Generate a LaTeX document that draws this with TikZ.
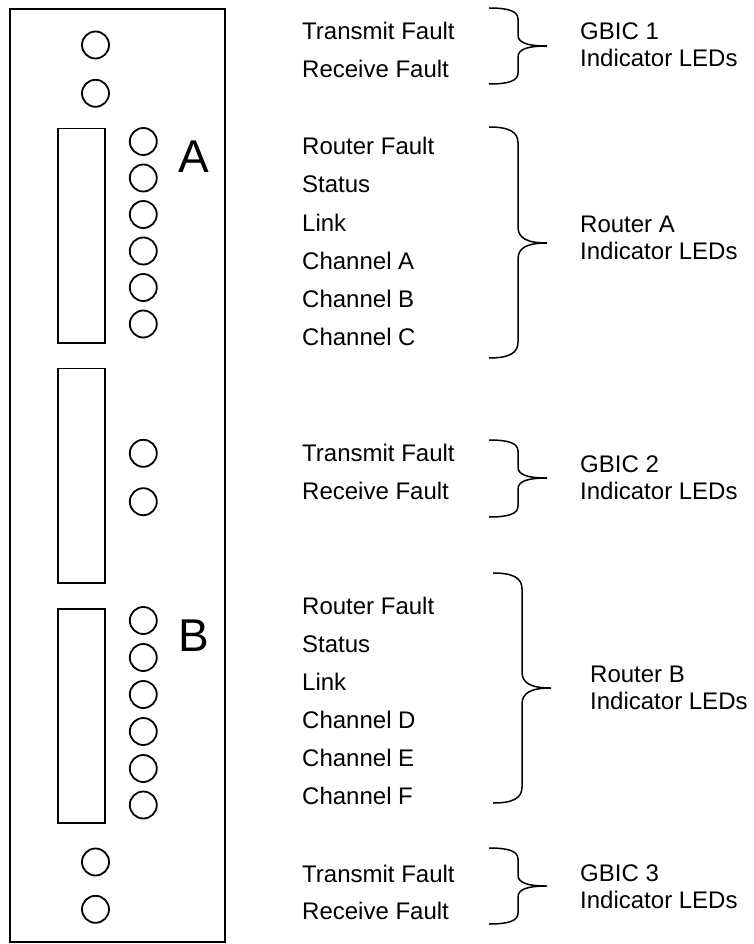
\documentclass[tikz,border=0pt]{standalone}
\usepackage{fontspec}
\setmainfont{Liberation Sans}
\usetikzlibrary{positioning}

% brace: left x, top y, tip y, bottom y, curl
\newcommand{\ledbrace}[5]{%
  \draw[brace] (#1,#2) .. controls +(20,0) and +(0,-0.7*#5) .. (#1+29,#2+#5)
    -- (#1+29,#3-#5) .. controls +(0,0.7*#5) and +(-20,0) .. (#1+58,#3)
    .. controls +(-20,0) and +(0,-0.7*#5) .. (#1+29,#3+#5)
    -- (#1+29,#4-#5) .. controls +(0,0.7*#5) and +(20,0) .. (#1,#4);}

\begin{document}
\begin{tikzpicture}[
                x=1pt, y=-1pt,
                panel/.style={
                        draw=black,
                        line width=2pt,
                        minimum width=215pt,
                        minimum height=933pt,
                        inner sep=0pt
                    },
                port/.style={panel, line width=1.8pt, minimum width=47pt, minimum height=214.5pt},
                led/.style={circle, draw=black, line width=1.8pt, minimum size=27pt, inner sep=0pt},
                letter/.style={inner sep=0pt, font=\fontsize{46}{50}\selectfont},
                item/.style={anchor=base west, inner sep=0pt, font=\fontsize{24}{27}\selectfont},
                group/.style={item, align=left},
                brace/.style={draw=black, line width=1.5pt}
            ]
            \useasboundingbox (0,0) rectangle (753,944);

            % Panel and ports
            \node[panel] (panel) at (117.5,475.5) {};
            \node[port] (portA) at (81.5,235.7) {};
            \node[port] (gbicB) at (81.5,475.8) {};
            \node[port] (portB) at (81.5,716) {};
            \node[letter] (letA) at (193.5,156.5) {A};
            \node[letter] (letB) at (193.5,635.5) {B};

            % GBIC 1 (group nodes sit on the baseline of their last line)
            \node[led] (g1tx) at (95.5,45) {};
            \node[led] (g1rx) at (95.5,93.3) {};
            \node[item] (g1txl) at (302,40) {Transmit Fault};
            \node[item] (g1rxl) at (302,78) {Receive Fault};
            \ledbrace{489}{8}{46}{84}{11}
            \node[group] (g1) at (580,67) {GBIC 1\\Indicator LEDs};

            % Router A
            \node[led] (ra1) at (143.3,141.5) {};
            \node[led] (ra2) at (143.3,178) {};
            \node[led] (ra3) at (143.3,214.5) {};
            \node[led] (ra4) at (143.3,251) {};
            \node[led] (ra5) at (143.3,287.5) {};
            \node[led] (ra6) at (143.3,324) {};
            \node[item] (ra1l) at (302,155) {Router Fault};
            \node[item] (ra2l) at (302,193) {Status};
            \node[item] (ra3l) at (302,231) {Link};
            \node[item] (ra4l) at (302,269) {Channel A};
            \node[item] (ra5l) at (302,307) {Channel B};
            \node[item] (ra6l) at (302,345) {Channel C};
            \ledbrace{489}{127}{243}{358}{16}
            \node[group] (ra) at (580,259) {Router A\\Indicator LEDs};

            % GBIC 2
            \node[led] (g2tx) at (143.3,453.3) {};
            \node[led] (g2rx) at (143.3,501.7) {};
            \node[item] (g2txl) at (302,461) {Transmit Fault};
            \node[item] (g2rxl) at (302,499) {Receive Fault};
            \ledbrace{489}{440}{478}{517}{11}
            \node[group] (g2) at (580,499) {GBIC 2\\Indicator LEDs};

            % Router B
            \node[led] (rb1) at (143.3,620.5) {};
            \node[led] (rb2) at (143.3,657.5) {};
            \node[led] (rb3) at (143.3,694.5) {};
            \node[led] (rb4) at (143.3,731.5) {};
            \node[led] (rb5) at (143.3,768.5) {};
            \node[led] (rb6) at (143.3,805) {};
            \node[item] (rb1l) at (302,614) {Router Fault};
            \node[item] (rb2l) at (302,652) {Status};
            \node[item] (rb3l) at (302,690) {Link};
            \node[item] (rb4l) at (302,728) {Channel D};
            \node[item] (rb5l) at (302,766) {Channel E};
            \node[item] (rb6l) at (302,804) {Channel F};
            \ledbrace{493}{573}{688}{803}{16}
            \node[group] (rb) at (590,709) {Router B\\Indicator LEDs};

            % GBIC 3
            \node[led] (g3tx) at (95.5,862) {};
            \node[led] (g3rx) at (95.5,909.3) {};
            \node[item] (g3txl) at (302,882) {Transmit Fault};
            \node[item] (g3rxl) at (302,919) {Receive Fault};
            \ledbrace{489}{848}{886}{924}{11}
            \node[group] (g3) at (580,908) {GBIC 3\\Indicator LEDs};

        \end{tikzpicture}
\end{document}
